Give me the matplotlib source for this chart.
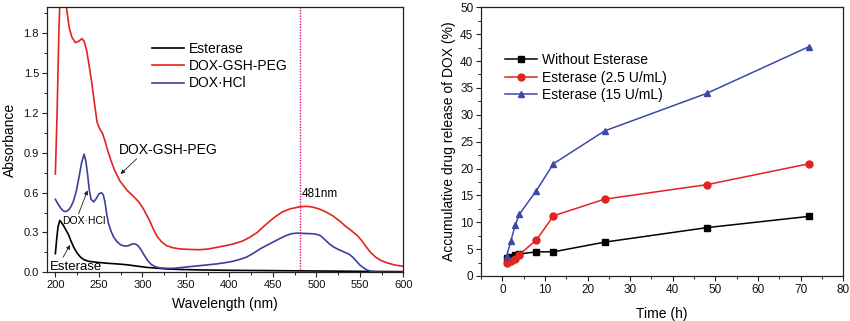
import matplotlib
matplotlib.use("Agg")
import matplotlib.pyplot as plt
from matplotlib.ticker import MultipleLocator, FormatStrFormatter

plt.rcParams['font.family'] = ['Liberation Sans', 'DejaVu Sans']

# ---- UV-vis spectra (wavelength in nm, absorbance) ----
peg_wl = [200, 202, 204, 205.5, 208, 211, 213, 216, 219, 223, 227, 230.5, 233, 236, 239,
          242, 245, 248, 251, 254, 257, 260, 264, 268, 274, 282, 290, 296, 301, 305, 309,
          313, 317, 322, 328, 335, 343, 355, 366, 375, 385, 395, 404, 415, 423, 432, 442,
          452, 461, 470, 480, 488, 495, 503, 511, 519, 527, 534, 541, 547, 552, 557, 562,
          568, 574, 580, 590, 600]
peg_abs = [0.74, 1.2, 1.8, 2.1, 2.4, 2.2, 1.98, 1.84, 1.77, 1.73, 1.74, 1.76, 1.74, 1.67, 1.55,
           1.42, 1.27, 1.13, 1.08, 1.05, 0.99, 0.92, 0.84, 0.77, 0.69, 0.62, 0.57, 0.53, 0.48,
           0.43, 0.38, 0.32, 0.27, 0.23, 0.20, 0.185, 0.176, 0.172, 0.17, 0.175, 0.187, 0.20,
           0.212, 0.235, 0.262, 0.30, 0.36, 0.415, 0.455, 0.478, 0.492, 0.497, 0.492, 0.478,
           0.455, 0.425, 0.385, 0.345, 0.31, 0.277, 0.24, 0.195, 0.152, 0.115, 0.09, 0.074,
           0.055, 0.045]

hcl_wl = [200, 203, 206, 209, 212, 215, 218, 221, 224, 227, 230, 233, 235, 237, 239, 241,
          244, 247, 250, 253, 255, 257, 259, 261, 264, 267, 271, 275, 280, 284, 288, 292,
          295, 298, 302, 306, 310, 315, 320, 328, 336, 345, 358, 372, 385, 395, 404, 412,
          420, 428, 435, 443, 450, 458, 465, 471, 477, 485, 496, 501, 505, 510, 515, 520,
          526, 532, 538, 542, 546, 550, 554, 558, 563, 570, 580, 600]
hcl_abs = [0.55, 0.515, 0.485, 0.462, 0.457, 0.468, 0.495, 0.54, 0.61, 0.71, 0.82, 0.89,
           0.84, 0.74, 0.62, 0.55, 0.53, 0.555, 0.59, 0.60, 0.585, 0.53, 0.44, 0.37, 0.31,
           0.265, 0.23, 0.207, 0.197, 0.20, 0.213, 0.214, 0.20, 0.175, 0.13, 0.09, 0.06,
           0.042, 0.033, 0.03, 0.03, 0.036, 0.045, 0.054, 0.063, 0.072, 0.083, 0.097, 0.115,
           0.145, 0.175, 0.203, 0.227, 0.254, 0.276, 0.29, 0.295, 0.293, 0.29, 0.285, 0.275,
           0.245, 0.214, 0.19, 0.17, 0.153, 0.135, 0.113, 0.085, 0.055, 0.035, 0.018, 0.008,
           0.002, 0.0, 0.0]

est_wl = [200, 201.5, 203, 205, 207, 209.5, 212, 215, 218, 221, 225, 229, 233, 238, 248,
          260, 271, 282, 290, 298, 305, 315, 328, 345, 366, 400, 442, 480, 519, 560, 600]
est_abs = [0.14, 0.25, 0.34, 0.39, 0.375, 0.35, 0.32, 0.285, 0.235, 0.19, 0.145, 0.113,
           0.095, 0.083, 0.075, 0.068, 0.063, 0.057, 0.05, 0.043, 0.037, 0.032, 0.025,
           0.021, 0.018, 0.015, 0.013, 0.011, 0.009, 0.007, 0.005]

peak_wl = 481

# ---- release profile (time in h, cumulative release in %) ----
time_h = [1, 2, 3, 4, 8, 12, 24, 48, 72]
rel_none = [3.3, 3.5, 4.0, 4.1, 4.5, 4.5, 6.3, 9.0, 11.1]
rel_low = [2.5, 2.7, 3.2, 4.0, 6.7, 11.2, 14.3, 17.0, 20.9]
rel_high = [3.7, 6.5, 9.4, 11.5, 15.9, 20.9, 27.0, 34.0, 42.7]

RED = '#e2231f'
BLUE = '#3c3f9c'
BLUE_M = '#3b4aa6'

fig = plt.figure(figsize=(8.5, 3.21), dpi=100)
ax1 = fig.add_axes([0.0549, 0.1517, 0.4196, 0.8274])
ax2 = fig.add_axes([0.5659, 0.1402, 0.4262, 0.8370])

def style_axes(ax, tick_fs):
    for sp in ax.spines.values():
        sp.set_linewidth(0.9)
        sp.set_color('#222222')
    ax.tick_params(which='both', direction='out', top=False, right=False,
                   colors='#222222', labelsize=tick_fs, labelcolor='#111111')
    ax.tick_params(which='major', length=3.5, width=0.8, pad=2)
    ax.tick_params(which='minor', length=2, width=0.7)

# ---- left panel ----
ax1.plot(est_wl, est_abs, color='black', lw=1.2, label='Esterase')
ax1.plot(peg_wl, peg_abs, color=RED, lw=1.2, label='DOX-GSH-PEG')
ax1.plot(hcl_wl, hcl_abs, color=BLUE, lw=1.2, label='DOX·HCl')
ax1.axvline(peak_wl, color='#e0107f', lw=1.0, ls=(0, (1, 1)))
ax1.text(peak_wl + 2, 0.59, f'{peak_wl}nm', fontsize=8.5, ha='left', va='center')

ax1.set_xlim(190, 600)
ax1.set_ylim(0, 2.0)
ax1.xaxis.set_major_locator(MultipleLocator(50))
ax1.xaxis.set_minor_locator(MultipleLocator(25))
ax1.yaxis.set_major_locator(MultipleLocator(0.3))
ax1.yaxis.set_minor_locator(MultipleLocator(0.15))
ax1.yaxis.set_major_formatter(FormatStrFormatter('%.1f'))
style_axes(ax1, 8)
ax1.set_xlabel('Wavelength (nm)', fontsize=10, labelpad=5)
ax1.set_ylabel('Absorbance', fontsize=10, labelpad=5)

arrow = dict(arrowstyle='-|>', lw=0.6, color='#222222', mutation_scale=6,
             shrinkA=0, shrinkB=0)
ax1.text(273, 0.92, 'DOX-GSH-PEG', fontsize=10, ha='left', va='center')
ax1.annotate('', xy=(275, 0.74), xytext=(293.5, 0.855), arrowprops=arrow)
ax1.text(207.5, 0.385, 'DOX·HCl', fontsize=7.5, ha='left', va='center')
ax1.annotate('', xy=(237, 0.617), xytext=(226.7, 0.44), arrowprops=arrow)
ax1.text(193.5, 0.038, 'Esterase', fontsize=9.5, ha='left', va='center')
ax1.annotate('', xy=(217, 0.206), xytext=(208.8, 0.113), arrowprops=arrow)

ax1.legend(loc='upper left', bbox_to_anchor=(0.276, 0.895), frameon=False,
           fontsize=10, handlelength=2.3, handletextpad=0.35, labelspacing=0.25,
           borderpad=0)

# ---- right panel ----
ax2.plot(time_h, rel_none, color='black', lw=1.1, marker='s', ms=4.5,
         label='Without Esterase')
ax2.plot(time_h, rel_low, color=RED, lw=1.1, marker='o', ms=5,
         label='Esterase (2.5 U/mL)')
ax2.plot(time_h, rel_high, color=BLUE_M, lw=1.1, marker='^', ms=5,
         label='Esterase (15 U/mL)')

ax2.set_xlim(-5, 80)
ax2.set_ylim(0, 50)
ax2.xaxis.set_major_locator(MultipleLocator(10))
ax2.xaxis.set_minor_locator(MultipleLocator(5))
ax2.yaxis.set_major_locator(MultipleLocator(5))
ax2.yaxis.set_minor_locator(MultipleLocator(2.5))
style_axes(ax2, 8.5)
ax2.set_xlabel('Time (h)', fontsize=10, labelpad=8)
ax2.set_ylabel('Accumulative drug release of DOX (%)', fontsize=10, labelpad=3)

ax2.legend(loc='upper left', bbox_to_anchor=(0.047, 0.855), frameon=False,
           fontsize=10, handlelength=2.3, handletextpad=0.35, labelspacing=0.25,
           borderpad=0)

fig.savefig('out.png', dpi=100)
